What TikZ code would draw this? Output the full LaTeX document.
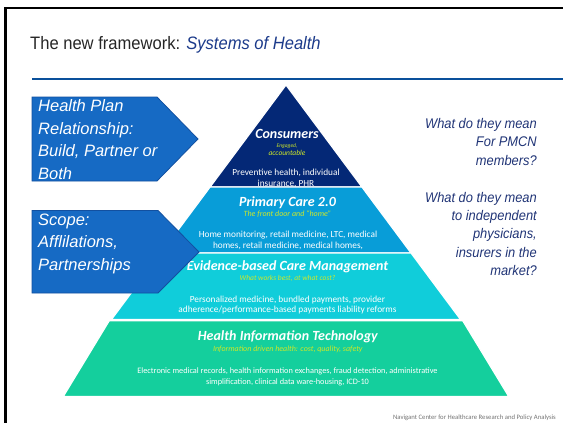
\documentclass[tikz,border=0pt]{standalone}
\usepackage{fontspec}
\setmainfont{Liberation Sans}
\newfontfamily\calfont{Carlito}
\newfontfamily\narrowfont[FakeStretch=0.92]{Liberation Sans}

\definecolor{consumernavy}{RGB}{4,40,118}
\definecolor{primaryblue}{RGB}{8,157,216}
\definecolor{evidencecyan}{RGB}{16,205,218}
\definecolor{hitgreen}{RGB}{20,207,157}
\definecolor{notegreen}{RGB}{206,232,40}
\definecolor{arrowblue}{RGB}{22,106,196}
\definecolor{arrowedge}{RGB}{18,80,160}
\definecolor{titleblue}{RGB}{27,58,138}
\definecolor{askblue}{RGB}{32,52,118}
\definecolor{rulerblue}{RGB}{10,80,155}

\tikzset{
  layer/.style={draw=white, line width=1.2pt},
  layertitle/.style={font=\calfont\bfseries\itshape\fontsize{#1}{#1}\selectfont, text=white, anchor=base, inner sep=0pt},
  layernote/.style={font=\calfont\itshape\fontsize{#1}{#1}\selectfont, text=notegreen, anchor=base, inner sep=0pt},
  layerbody/.style={font=\calfont\fontsize{#1}{10.4}\selectfont, text=white, align=center, anchor=base, inner sep=0pt},
  sidearrow/.style={fill=arrowblue, draw=arrowedge, line width=0.8pt},
  sidetext/.style={font=\itshape\fontsize{16.5}{22.6}\selectfont, text=white, align=left, anchor=base west, inner sep=0pt},
  asktext/.style={font=\narrowfont\itshape\fontsize{14}{18.3}\selectfont, text=askblue, align=right, anchor=base east, inner sep=0pt}
}

\begin{document}
\begin{tikzpicture}[x=1pt, y=-1pt]
    \useasboundingbox (0,0) rectangle (563,423);

    % frame and rule
    \draw[line width=2.2pt, black] (5.5,423) -- (5.5,8) -- (563,8);
    \draw[line width=2pt, rulerblue] (32,78.5) -- (563,78.5);

    % title
    \node[anchor=base west, inner sep=0pt, font=\narrowfont\fontsize{18}{18}\selectfont, text=black!85] (title) at (30,49)
        {The new framework: \textcolor{titleblue}{\itshape Systems of Health}};

    % consumers
    \fill[consumernavy, layer] (286,85) -- (361.9,187) -- (210.1,187) -- cycle;
    \node[layertitle=14] (consumers) at (287,138.3) {Consumers};
    \node[layernote=5.5] (engaged) at (287,147.3) {Engaged,};
    \node[layernote=7.5] (accountable) at (287,155) {accountable};
    \node[layerbody=9.3] (prevent) at (286,186.3) {Preventive health, individual\\insurance, PHR};

    % primary care
    \fill[primaryblue, layer] (210.1,187) -- (361.9,187) -- (411,253) -- (161,253) -- cycle;
    \node[layertitle=14] (primary) at (287.5,206) {Primary Care 2.0};
    \node[layernote=8] (frontdoor) at (287.5,216.5) {The front door and “home”};
    \node[layerbody=9.3] (homecare) at (288,248.3) {Home monitoring, retail medicine, LTC, medical\\homes, retail medicine, medical homes,};

    % evidence-based care
    \fill[evidencecyan, layer] (161,253) -- (411,253) -- (460.5,319.5) -- (111.5,319.5) -- cycle;
    \node[layertitle=14] (evidence) at (287.5,270.7) {Evidence-based Care Management};
    \node[layernote=7.5] (worksbest) at (287.5,280.7) {What works best, at what cost?};
    \node[layerbody=9.3] (payments) at (287.5,312.7) {Personalized medicine, bundled payments, provider\\adherence/performance-based payments liability reforms};

    % health information technology
    \fill[hitgreen, layer] (109.3,320.7) -- (462.7,320.7) -- (508.7,396.5) -- (63.3,396.5) -- cycle;
    \node[layertitle=14] (hit) at (287.8,340.7) {Health Information Technology};
    \node[layernote=8] (infodriven) at (287.8,351) {Information driven health: cost, quality, safety};
    \node[layerbody=8.3] (records) at (287.5,384.3) {Electronic medical records, health information exchanges, fraud detection, administrative\\simplification, clinical data ware-housing, ICD-10};

    % left arrows
    \draw[sidearrow] (32,97) -- (157,97) -- (198,139) -- (157,181) -- (32,181) -- cycle;
    \draw[sidearrow] (32,210.5) -- (158,210.5) -- (199,252) -- (158,293) -- (32,293) -- cycle;
    \node[sidetext] (plan) at (38,179.5) {Health Plan\\Relationship:\\Build, Partner or\\Both};
    \node[sidetext] (scope) at (38,270.2) {Scope:\\Afflilations,\\Partnerships};

    % questions
    \node[asktext] (askpmcn) at (537,165) {What do they mean\\For PMCN\\members?};
    \node[asktext] (askindep) at (537,275.5) {What do they mean\\to independent\\physicians,\\insurers in the\\market?};

    % footer
    \node[anchor=base east, inner sep=0pt, font=\calfont\fontsize{6.7}{7}\selectfont, text=black!55] (footer) at (556,419)
        {Navigant Center for Healthcare Research and Policy Analysis};
\end{tikzpicture}
\end{document}
